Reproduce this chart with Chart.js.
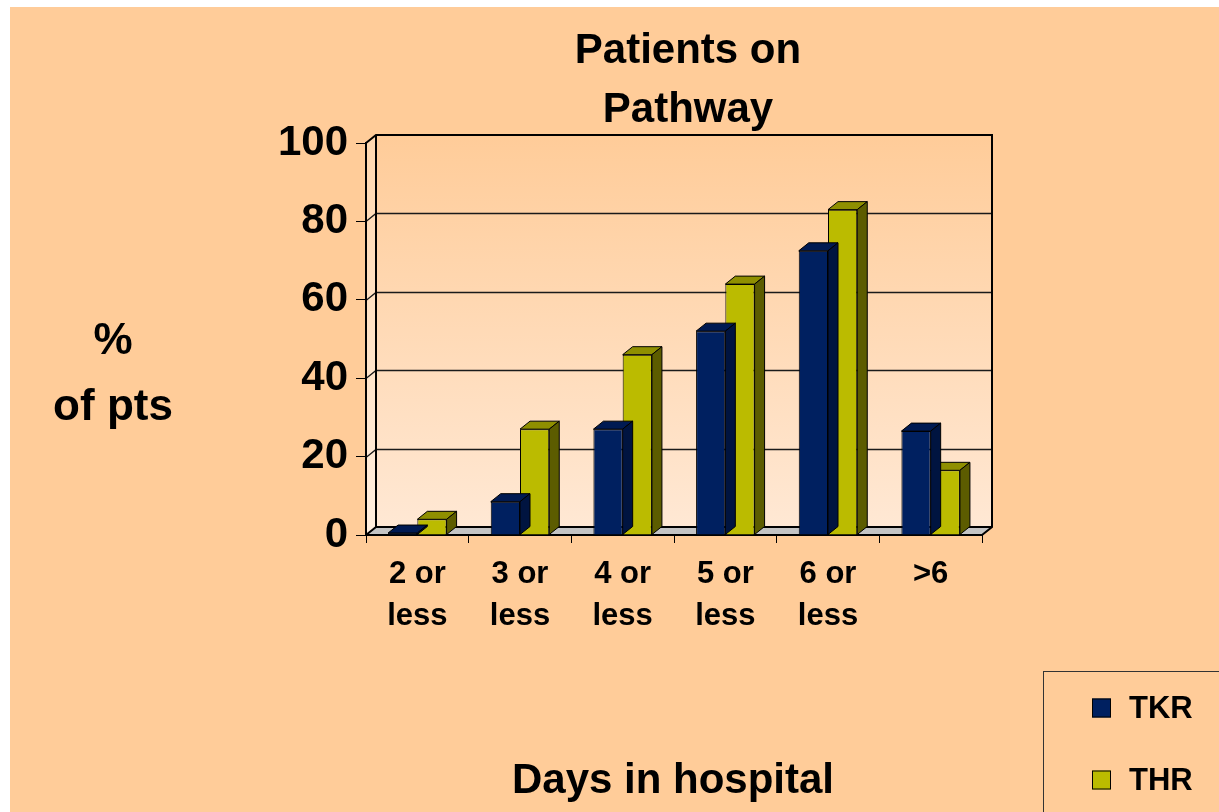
<!DOCTYPE html>
<html><head><meta charset="utf-8">
<script src="https://cdn.jsdelivr.net/npm/chart.js@4.4.1/dist/chart.umd.min.js"></script>
<style>html,body{margin:0;padding:0;background:#fff;overflow:hidden}canvas{display:block}</style>
</head><body>
<canvas id="c" width="1219" height="812"></canvas>
<script>
const categories = [['2 or','less'],['3 or','less'],['4 or','less'],['5 or','less'],['6 or','less'],['>6']];
const seriesNames = ['TKR','THR'];
const tkrValues = [0.5, 8.5, 27, 52, 72.5, 26.5];
const thrValues = [4, 27, 46, 64, 83, 16.5];
const yTicks = [0, 20, 40, 60, 80, 100];
const titleLines = ['Patients on', 'Pathway'];
const yTitleLines = ['%', 'of pts'];
const xTitle = 'Days in hospital';

const FONT = "'Liberation Sans', Arial, Helvetica, sans-serif";
const DX = 10, DY = 8;
const faces = [
  {front:'#002060', top:'#001A52', side:'#001440'},
  {front:'#BBBB00', top:'#8F8F00', side:'#5C5C00'}
];

const decor = {
  id: 'decor',
  beforeDraw(chart) {
    const ctx = chart.ctx, a = chart.chartArea, ys = chart.scales.y;
    const L = a.left, R = a.right, T = a.top, B = a.bottom;
    ctx.save();
    ctx.fillStyle = '#fff'; ctx.fillRect(0, 0, chart.width, chart.height);
    ctx.fillStyle = '#FFCC99'; ctx.fillRect(10, 7, chart.width - 10, chart.height - 7);
    // back wall
    const g = ctx.createLinearGradient(0, T - DY, 0, B - DY);
    g.addColorStop(0, '#FFCC99'); g.addColorStop(1, '#FFE8D4');
    ctx.fillStyle = g; ctx.fillRect(L + DX, T - DY, R - L, B - T);
    // left wall
    ctx.beginPath(); ctx.moveTo(L, T); ctx.lineTo(L + DX, T - DY); ctx.lineTo(L + DX, B - DY); ctx.lineTo(L, B); ctx.closePath();
    const g2 = ctx.createLinearGradient(0, T, 0, B);
    g2.addColorStop(0, '#FFD8B0'); g2.addColorStop(1, '#FFEEDE');
    ctx.fillStyle = g2; ctx.fill();
    // floor
    ctx.beginPath(); ctx.moveTo(L, B); ctx.lineTo(L + DX, B - DY); ctx.lineTo(R + DX, B - DY); ctx.lineTo(R, B); ctx.closePath();
    ctx.fillStyle = '#C4C4C4'; ctx.fill();
    ctx.strokeStyle = '#000'; ctx.lineWidth = 1; ctx.stroke();
    // gridlines on back wall
    ctx.strokeStyle = '#1a1a1a'; ctx.lineWidth = 1.3;
    yTicks.forEach(v => {
      if (v === 0 || v === 100) return;
      const y = Math.round(ys.getPixelForValue(v)) + 0.5;
      ctx.beginPath(); ctx.moveTo(L, y); ctx.lineTo(L + DX, y - DY); ctx.lineTo(R + DX, y - DY); ctx.stroke();
    });
    // wall outlines
    ctx.strokeStyle = '#000'; ctx.lineWidth = 2;
    ctx.beginPath(); ctx.moveTo(L, T); ctx.lineTo(L + DX, T - DY); ctx.lineTo(R + DX, T - DY); ctx.lineTo(R + DX, B - DY); ctx.lineTo(R, B); ctx.stroke();
    ctx.beginPath(); ctx.moveTo(L + DX, T - DY); ctx.lineTo(L + DX, B - DY); ctx.lineTo(R + DX, B - DY); ctx.stroke();
    ctx.beginPath(); ctx.moveTo(L, B); ctx.lineTo(L + DX, B - DY); ctx.stroke();
    ctx.restore();
  },
  afterDatasetDraw(chart, args) {
    const ctx = chart.ctx, f = faces[args.index];
    ctx.save(); ctx.lineWidth = 1; ctx.strokeStyle = '#000'; ctx.lineJoin = 'miter';
    args.meta.data.forEach(bar => {
      const p = bar.getProps(['x', 'y', 'base', 'width'], true);
      const l = p.x - p.width / 2, r = p.x + p.width / 2, t = p.y, b = p.base;
      ctx.beginPath(); ctx.moveTo(l, t); ctx.lineTo(l + DX, t - DY); ctx.lineTo(r + DX, t - DY); ctx.lineTo(r, t); ctx.closePath();
      ctx.fillStyle = f.top; ctx.fill(); ctx.stroke();
      ctx.beginPath(); ctx.moveTo(r, t); ctx.lineTo(r + DX, t - DY); ctx.lineTo(r + DX, b - DY); ctx.lineTo(r, b); ctx.closePath();
      ctx.fillStyle = f.side; ctx.fill(); ctx.stroke();
    });
    ctx.restore();
  },
  afterDraw(chart) {
    const ctx = chart.ctx;
    ctx.save();
    ctx.fillStyle = '#000';
    ctx.textAlign = 'center'; ctx.textBaseline = 'alphabetic';
    ctx.font = 'bold 42px ' + FONT;
    ctx.fillText(titleLines[0], 688, 63);
    ctx.fillText(titleLines[1], 688, 122);
    ctx.font = 'bold 44px ' + FONT;
    ctx.fillText(yTitleLines[0], 113, 354);
    ctx.fillText(yTitleLines[1], 113, 420);
    ctx.font = 'bold 42px ' + FONT;
    ctx.fillText(xTitle, 673, 793);
    // legend
    ctx.strokeStyle = '#333'; ctx.lineWidth = 1;
    ctx.strokeRect(1043.5, 671.5, 200, 200);
    ctx.font = 'bold 31px ' + FONT; ctx.textAlign = 'left'; ctx.textBaseline = 'middle';
    const ly = [708, 780];
    chart.data.datasets.forEach((ds, i) => {
      ctx.fillStyle = ds.backgroundColor;
      ctx.fillRect(1092, ly[i] - 9.5, 19, 19);
      ctx.strokeStyle = '#000'; ctx.strokeRect(1092.5, ly[i] - 9, 18, 18);
      ctx.fillStyle = '#000';
      ctx.fillText(ds.label, 1129, ly[i] + 1);
    });
    ctx.restore();
  }
};

new Chart(document.getElementById('c'), {
  type: 'bar',
  data: {
    labels: categories,
    datasets: [
      {label: seriesNames[0], data: tkrValues, backgroundColor: faces[0].front, borderColor: '#000', borderWidth: 1},
      {label: seriesNames[1], data: thrValues, backgroundColor: faces[1].front, borderColor: '#000', borderWidth: 1}
    ]
  },
  options: {
    responsive: false, animation: false, devicePixelRatio: 1,
    layout: {padding: {left: 0, top: 143, right: 237, bottom: 0}},
    datasets: {bar: {categoryPercentage: 0.57, barPercentage: 1.0}},
    plugins: {legend: {display: false}, title: {display: false}, tooltip: {enabled: false}},
    scales: {
      x: {
        afterFit(s) { s.height = 277; },
        grid: {drawOnChartArea: false, drawTicks: true, tickLength: 8, color: '#000'},
        border: {display: true, color: '#000', width: 2},
        ticks: {color: '#000', padding: 10, maxRotation: 0, autoSkip: false, font: {family: FONT, size: 31, weight: 'bold', lineHeight: 1.36}}
      },
      y: {
        min: 0, max: 100,
        afterFit(s) { s.width = 366; },
        afterBuildTicks(s) { s.ticks = yTicks.map(v => ({value: v})); },
        grid: {drawOnChartArea: false, drawTicks: true, tickLength: 10, color: '#000'},
        border: {display: true, color: '#000', width: 2},
        ticks: {color: '#000', padding: 8, font: {family: FONT, size: 42, weight: 'bold'}}
      }
    }
  },
  plugins: [decor]
});
</script>
</body></html>
